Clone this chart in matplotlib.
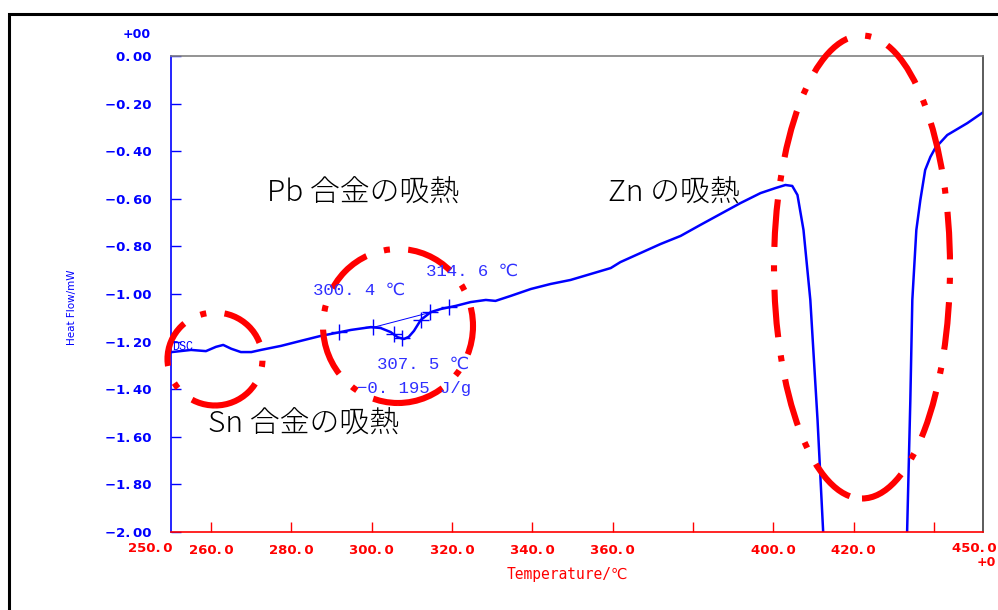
import numpy as np
import matplotlib
matplotlib.use("Agg")
import matplotlib.pyplot as plt
from matplotlib.patches import Ellipse, Rectangle

# DSC trace: temperature (degC) and heat flow (mW)
temp = [250.2, 255.0, 258.7, 261.2, 263.0, 265.0, 267.4, 270.0, 272.4, 277.4,
        282.3, 287.3, 291.0, 294.8, 299.8, 302.2, 304.7, 306.5, 308.0, 309.2,
        310.5, 312.2, 314.7, 317.2, 320.9, 324.6, 328.4, 330.8, 334.6, 339.6, 344.5,
        349.5, 354.5, 359.5, 361.9, 366.9, 371.9, 376.9, 381.8, 386.8, 391.8,
        396.8, 400.5, 403.0, 404.7, 406.0, 407.5, 409.2, 411.0, 412.4, 413.2,
        432.6, 433.3, 434.1, 434.6, 435.6, 436.6, 437.8, 439.1, 440.3, 443.3,
        448.3, 452.0]
heat = [-1.244, -1.235, -1.240, -1.222, -1.214, -1.230, -1.244, -1.244, -1.235, -1.218,
        -1.197, -1.176, -1.164, -1.151, -1.139, -1.143, -1.160, -1.182, -1.189, -1.180,
        -1.155, -1.109, -1.076, -1.063, -1.050, -1.034, -1.025, -1.029, -1.008, -0.979, -0.958,
        -0.941, -0.916, -0.891, -0.866, -0.828, -0.790, -0.756, -0.710, -0.664, -0.618,
        -0.576, -0.555, -0.542, -0.546, -0.584, -0.731, -1.025, -1.530, -2.000, -2.600,
        -2.600, -2.000, -1.450, -1.025, -0.731, -0.605, -0.479, -0.424, -0.387, -0.332,
        -0.282, -0.239]

# Pb-peak analysis
pb_onset, pb_peak, pb_end = 300.4, 307.5, 314.6
pb_enthalpy = -0.195
range_marks = [291.8, 305.5, 312.2, 319.2]

# axis ticks
x_ticks = [260, 280, 300, 320, 340, 360, 380, 400, 420, 440]
x_ticklabels = ["260.0", "280.0", "300.0", "320.0", "340.0", "360.0", "",
                "400.0", "420.0", ""]
y_ticks = [0.0, -0.2, -0.4, -0.6, -0.8, -1.0, -1.2, -1.4, -1.6, -1.8, -2.0]
x_min, x_max = 250.0, 452.2
y_min, y_max = -2.0, 0.0

BLUE = "#0000ff"
TXT_BLUE = "#3030ff"
RED = "#ff0000"
W, H = 998, 610
THIN = "\u2009"

fig = plt.figure(figsize=(W / 100, H / 100), dpi=100)
ax = fig.add_axes([171 / W, 1 - 532 / H, (983 - 171) / W, (532 - 56) / H])


def fx(px):
    return px / W


def fy(py):
    return 1 - py / H


# outer frame
fig.patches.append(Rectangle((fx(9), fy(700)), 1.2, fy(14) - fy(700),
                             transform=fig.transFigure, fill=False,
                             edgecolor="black", lw=2.2, clip_on=False))

ax.plot(temp, heat, color=BLUE, lw=1.8, solid_joinstyle="round")

# baseline and analysis markers
b0 = np.interp(pb_onset, temp, heat)
b1 = np.interp(pb_end, temp, heat)
ax.plot([pb_onset, pb_end], [b0, b1], color=BLUE, lw=0.7)
mx = sorted(range_marks + [pb_onset, pb_peak, pb_end])
ax.plot(mx, np.interp(mx, temp, heat), ls="none", marker="+", ms=11,
        mew=1.0, color=BLUE)

ax.set_xlim(x_min, x_max)
ax.set_ylim(y_min, y_max)


def ylab(v):
    s = "%.2f" % abs(v)
    s = s.replace(".", "." + THIN)
    return s if v == 0 else "−" + s


ax.set_xticks(x_ticks)
ax.set_xticklabels([s.replace(".", "." + THIN) for s in x_ticklabels])
ax.set_yticks(y_ticks)
ax.set_yticklabels([ylab(v) for v in y_ticks])
ax.tick_params(axis="x", direction="in", length=7, width=1, colors=RED,
               labelsize=9.5, pad=9)
ax.tick_params(axis="y", direction="in", length=7, width=1, colors=BLUE,
               labelsize=9.5, pad=14)
for lab in ax.get_xticklabels() + ax.get_yticklabels():
    lab.set_fontweight("bold")

ax.spines["bottom"].set_color(RED)
ax.spines["left"].set_color(BLUE)
ax.spines["top"].set_color("#808080")
ax.spines["right"].set_color("#404040")
for s in ax.spines.values():
    s.set_linewidth(1.2)

# axis end labels
fig.text(fx(173), fy(548), "250." + THIN + "0", color=RED, fontsize=9.5,
         fontweight="bold", ha="right", va="center")
fig.text(fx(952), fy(548), "450." + THIN + "0", color=RED, fontsize=9.5,
         fontweight="bold", ha="left", va="center")
fig.text(fx(977), fy(563), "+0", color=RED, fontsize=9, fontweight="bold",
         ha="left", va="center")
fig.text(fx(137), fy(35), "+00", color=BLUE, fontsize=9, fontweight="bold",
         ha="center", va="center")

fig.text(fx(72), fy(307), "Heat Flow/mW", color=BLUE, fontsize=7.5,
         rotation=90, ha="center", va="center")
fig.text(fx(567), fy(575), "Temperature/℃", color=RED, fontsize=10.5,
         family=["DejaVu Sans Mono", "DejaVu Sans"], ha="center", va="center")

fig.text(fx(172), fy(347), "DSC", color=BLUE, fontsize=8.5,
         family=["Liberation Mono", "DejaVu Sans"], ha="left", va="center")

mono = ["Liberation Mono", "DejaVu Sans"]


def fmt(v):
    s = "%.1f" % v
    return s.replace(".", ". ")


fig.text(fx(313), fy(290), fmt(pb_onset) + " ℃", color=TXT_BLUE, fontsize=12.5,
         family=mono, ha="left", va="center")
fig.text(fx(426), fy(271), fmt(pb_end) + " ℃", color=TXT_BLUE, fontsize=12.5,
         family=mono, ha="left", va="center")
fig.text(fx(377), fy(364), fmt(pb_peak) + " ℃", color=TXT_BLUE, fontsize=12.5,
         family=mono, ha="left", va="center")
fig.text(fx(357), fy(388), ("%.3f" % pb_enthalpy).replace("-", "−").replace(".", ". ") + " J/g",
         color=TXT_BLUE, fontsize=12.5, family=mono, ha="left", va="center")

# Japanese annotations
jp = ["Noto Sans CJK JP", "DejaVu Sans"]
for px, py, s in [(267, 193, "Pb 合金の吸熱"), (608, 193, "Zn の吸熱"),
                  (208, 424, "Sn 合金の吸熱")]:
    fig.text(fx(px), fy(py), s, fontsize=21.5, family=jp, weight="light",
             ha="left", va="center")

# dash-dot ellipses around the endotherms (pixel geometry -> data units)
sx = (x_max - x_min) / (983 - 171)
sy = (y_max - y_min) / (532 - 56)


def px2data(px, py):
    return x_min + (px - 171) * sx, y_max - (py - 56) * sy


for cx, cy, w, h in [(215, 359, 95, 93), (398, 326, 150, 154), (862, 267, 176, 463)]:
    dx, dy = px2data(cx, cy)
    e = Ellipse((dx, dy), w * sx, h * sy, fill=False, edgecolor=RED, lw=4.4,
                linestyle=(0, (7.8, 3.0, 1.0, 3.0)), capstyle="butt",
                clip_on=False, zorder=5)
    ax.add_patch(e)

fig.savefig("out.png", dpi=100)
